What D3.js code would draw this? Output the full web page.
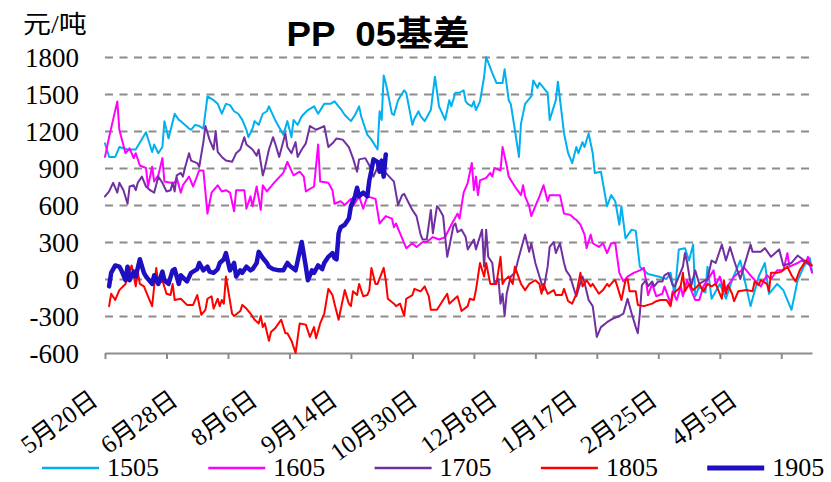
<!DOCTYPE html>
<html><head><meta charset="utf-8">
<script src="https://cdn.jsdelivr.net/npm/d3@7/dist/d3.min.js"></script>
<style>body{margin:0;background:#fff}svg{display:block}
.serif{font-family:"Liberation Serif","Tinos","Noto Sans CJK SC"}
.sansb{font-family:"Liberation Sans","Noto Sans CJK SC";font-weight:bold}
</style>
</head><body><svg id="c" width="831" height="482"></svg>
<script>
// ---------- data (category index = trading-day position, value = 元/吨) ----------
const seriesNames = ["1505", "1605", "1705", "1805", "1905"];
const seriesColors = ["#00B0F0", "#FF00FF", "#7030A0", "#FF0000", "#1F0FC2"];
const xTickLabels = ["5月20日", "6月28日", "8月6日", "9月14日", "10月30日", "12月8日", "1月17日", "2月25日", "4月5日"];
const yTicks = [-600, -300, 0, 300, 600, 900, 1200, 1500, 1800];
const lastDay = 345, labelEvery = 39, tickEvery = 30;

const s1505 = [[0,1100],[2,990],[5,990],[7,1070],[11,1050],[15,1050],[20,1190],[23,1030],[24,1090],[26,1020],[28,1070],[29,1280],[31,1140],[34,1340],[36,1290],[37,1280],[41,1220],[42,1210],[44,1250],[46,1240],[48,1220],[50,1480],[53,1450],[55,1420],[57,1340],[59,1420],[61,1410],[63,1360],[65,1340],[67,1290],[69,1210],[70,1150],[72,1220],[73,1280],[75,1250],[77,1340],[79,1360],[80,1400],[83,1290],[87,1170],[89,1280],[91,1150],[92,1290],[94,1250],[96,1320],[99,1370],[102,1400],[104,1340],[107,1420],[110,1420],[112,1440],[115,1380],[117,1330],[120,1280],[122,1330],[124,1400],[125,1320],[128,1170],[130,1130],[133,1050],[134,1360],[135,1290],[136,1650],[137,1590],[138,1510],[140,1340],[141,1330],[143,1450],[146,1530],[147,1510],[150,1250],[151,1300],[153,1360],[154,1320],[156,1280],[159,1370],[161,1640],[163,1400],[166,1290],[168,1450],[169,1400],[171,1510],[173,1510],[175,1530],[176,1440],[177,1420],[179,1400],[180,1440],[181,1370],[183,1440],[185,1640],[186,1800],[189,1670],[191,1590],[194,1590],[195,1700],[197,1450],[198,1420],[200,1210],[202,990],[203,1260],[205,1420],[207,1460],[208,1480],[209,1610],[211,1550],[212,1590],[216,1510],[217,1290],[220,1450],[221,1600],[224,1180],[226,1020],[228,940],[230,1070],[231,1020],[233,1110],[234,1070],[236,1180],[238,1020],[239,860],[242,870],[245,590],[247,680],[249,630],[251,440],[252,590],[254,330],[257,400],[259,390],[261,100],[265,40],[270,20],[274,0],[276,50],[278,-130],[280,240],[283,250],[285,150],[287,280],[288,-140],[290,-60],[293,-110],[294,100],[296,-160],[300,-40],[303,-160],[306,-10],[310,150],[315,-220],[319,20],[322,130],[324,-120],[328,-40],[331,-90],[335,-250],[338,-10],[341,100],[344,170],[345,60]];

const s1605 = [[0,990],[2,1150],[6,1440],[7,1210],[10,1020],[12,1060],[14,980],[15,1020],[17,920],[20,900],[21,750],[23,910],[24,790],[26,840],[28,980],[29,790],[32,780],[34,780],[35,820],[37,700],[38,760],[41,830],[43,750],[46,880],[48,880],[50,530],[52,700],[55,760],[57,710],[59,720],[61,700],[63,550],[64,720],[68,720],[69,570],[71,670],[72,590],[74,750],[76,560],[77,760],[79,710],[83,790],[87,860],[89,950],[92,840],[95,870],[97,830],[98,710],[102,750],[104,1090],[105,790],[109,780],[111,720],[112,610],[115,630],[117,600],[120,650],[121,590],[124,670],[126,570],[128,670],[132,650],[134,450],[137,510],[140,490],[141,420],[142,450],[144,370],[147,250],[150,290],[152,260],[155,300],[157,300],[160,340],[163,320],[166,340],[169,440],[172,530],[173,490],[175,700],[177,780],[179,940],[180,720],[181,830],[182,680],[183,800],[186,820],[188,860],[189,830],[190,900],[193,880],[194,1070],[196,920],[197,830],[200,750],[203,680],[204,760],[205,670],[207,590],[208,510],[210,590],[212,670],[214,760],[216,630],[217,680],[220,680],[222,680],[224,530],[227,520],[229,490],[230,480],[232,440],[234,360],[235,250],[237,360],[238,290],[241,260],[243,290],[245,210],[247,290],[249,290],[251,50],[253,-20],[255,20],[258,50],[261,70],[263,90],[265,-130],[267,-40],[269,-140],[272,-120],[273,-60],[276,-200],[277,-100],[279,-170],[281,-60],[282,-140],[284,-10],[286,-90],[288,-170],[290,-170],[292,-60],[297,70],[298,-50],[300,20],[302,-100],[305,-30],[307,20],[312,90],[314,50],[316,10],[320,-60],[323,30],[325,0],[328,70],[331,70],[333,210],[334,100],[338,130],[340,150],[342,130],[343,180],[345,50]];

const s1705 = [[0,670],[2,710],[4,780],[6,700],[7,780],[9,720],[11,610],[12,750],[14,760],[15,720],[16,780],[18,830],[20,750],[22,720],[24,700],[26,830],[28,780],[30,710],[32,720],[33,780],[34,710],[35,840],[37,860],[38,830],[39,900],[41,1020],[42,960],[45,940],[46,910],[48,1110],[49,1240],[51,1130],[53,1050],[54,1200],[55,1030],[57,990],[59,960],[62,950],[64,1020],[66,1050],[68,1150],[69,1090],[72,1050],[74,1000],[75,1050],[77,840],[78,900],[80,1050],[82,1150],[83,1100],[85,990],[88,1180],[89,1070],[91,1020],[93,1110],[94,990],[96,1050],[98,1100],[99,1170],[100,1240],[103,1210],[107,1240],[109,1070],[111,1100],[113,1140],[116,1130],[119,1070],[121,980],[123,870],[124,970],[127,980],[129,920],[131,830],[133,910],[137,860],[141,790],[143,600],[145,680],[146,690],[149,590],[150,560],[152,510],[154,360],[155,320],[157,320],[159,560],[160,370],[162,590],[163,570],[165,510],[166,340],[167,180],[168,260],[170,430],[171,450],[172,380],[174,400],[176,340],[177,240],[180,320],[181,240],[184,400],[185,100],[186,400],[187,180],[189,130],[190,-30],[192,0],[193,-200],[194,-120],[195,-300],[196,-120],[198,20],[200,50],[202,180],[205,360],[207,220],[208,290],[210,130],[212,20],[214,-90],[216,100],[217,260],[219,300],[220,210],[222,290],[224,130],[225,70],[227,20],[229,-90],[230,-140],[232,-30],[233,20],[234,-30],[236,-170],[238,-220],[240,-470],[242,-390],[245,-350],[248,-320],[251,-300],[253,-280],[255,-160],[257,-280],[259,-390],[260,-440],[261,-280],[262,-50],[264,-10],[265,-60],[267,-20],[268,-60],[270,-20],[272,-20],[273,30],[275,50],[277,-50],[278,-60],[280,20],[282,100],[283,210],[284,140],[286,-60],[288,70],[290,-40],[294,0],[296,150],[298,130],[301,280],[303,150],[305,260],[307,150],[310,0],[315,280],[316,220],[320,220],[322,250],[325,180],[329,240],[331,110],[335,130],[338,190],[342,140],[344,110]];

const s1805 = [[2,-220],[3,-120],[5,-170],[7,-90],[10,-40],[13,110],[15,-60],[16,60],[17,-40],[19,-60],[21,-140],[23,-220],[24,-60],[25,90],[26,-40],[28,-10],[30,-120],[32,-130],[33,-40],[34,-170],[37,-160],[40,-210],[43,-210],[45,-130],[47,-290],[49,-250],[50,-160],[52,-140],[53,-240],[55,-160],[56,-220],[57,-170],[58,-200],[59,20],[62,-280],[63,-300],[66,-260],[67,-210],[69,-240],[71,-280],[73,-330],[75,-360],[76,-300],[77,-390],[78,-360],[80,-500],[81,-430],[83,-400],[86,-330],[88,-440],[89,-440],[91,-500],[93,-600],[95,-360],[98,-370],[100,-470],[102,-390],[103,-480],[105,-360],[107,-280],[109,-80],[111,-130],[112,-200],[114,-330],[116,-170],[117,-90],[119,-200],[120,-220],[121,-100],[123,-130],[124,-40],[126,-140],[128,-130],[129,-90],[130,90],[132,-40],[133,-40],[136,90],[137,-10],[138,-160],[141,-200],[142,-220],[144,-200],[146,-300],[147,-160],[150,-130],[151,-80],[154,-100],[156,-60],[158,-140],[159,-250],[162,-250],[165,-170],[167,-120],[168,-200],[170,-170],[172,-140],[174,-260],[177,-220],[178,-160],[180,-170],[181,-90],[182,20],[183,130],[185,20],[186,130],[188,-40],[190,-40],[191,-40],[193,180],[194,-40],[195,-10],[197,20],[199,-40],[200,100],[203,-40],[205,-90],[207,-40],[210,-10],[212,-40],[213,-120],[214,-40],[216,-120],[219,-90],[220,-130],[223,-130],[224,-80],[226,-180],[228,-200],[230,-120],[232,50],[233,-60],[235,-10],[237,-60],[238,-40],[241,-120],[243,-90],[245,-40],[246,-60],[248,-20],[249,-10],[250,-60],[252,-170],[254,-10],[255,0],[256,-100],[259,-100],[260,-210],[263,-220],[265,-210],[267,-200],[269,-180],[271,-170],[274,-170],[276,-220],[277,-120],[280,-80],[281,-50],[282,50],[283,-100],[285,-40],[287,-90],[289,-60],[290,-40],[292,-100],[294,-40],[296,-60],[298,-40],[299,-80],[301,-160],[302,-10],[303,-120],[304,-50],[306,-120],[307,-180],[309,-100],[313,-90],[316,-100],[317,-20],[319,-50],[320,-10],[323,-40],[324,-100],[325,50],[328,50],[330,60],[333,100],[335,30],[337,-20],[339,70],[342,150],[343,140],[345,110]];

const s1905 = [[2,-60],[3,50],[5,110],[7,100],[8,70],[10,-10],[11,100],[12,-10],[14,60],[15,20],[17,160],[19,50],[20,20],[23,-40],[24,30],[26,-40],[28,60],[29,-10],[31,-40],[33,70],[34,80],[36,-40],[37,30],[40,-20],[42,50],[45,80],[46,130],[48,70],[50,100],[51,60],[53,50],[55,80],[56,130],[58,160],[59,210],[61,70],[63,130],[64,20],[66,70],[67,50],[69,100],[71,70],[72,80],[74,130],[75,220],[77,170],[79,130],[80,100],[82,80],[85,70],[87,70],[89,130],[90,110],[93,70],[96,300],[98,100],[99,-10],[101,70],[102,50],[104,110],[106,80],[107,130],[109,180],[111,210],[112,170],[113,160],[114,370],[115,420],[117,440],[119,490],[120,590],[122,670],[123,740],[124,670],[126,700],[128,670],[129,800],[130,880],[131,970],[133,950],[134,870],[135,960],[136,830],[137,1010]];

const seriesData = [s1505, s1605, s1705, s1805, s1905];

// ---------- drawing ----------
const svg = d3.select("#c");
const L = 105, R = 812, T = 57, B = 353;

const x = d3.scaleLinear().domain([0, lastDay]).range([L, R]);
const y = d3.scaleLinear().domain([-600, 1800]).range([B, T]);

// gridlines
const grid = svg.append("g").attr("transform", `translate(${L},0)`)
  .call(d3.axisLeft(y).tickValues(yTicks.filter(v => v > -600)).tickSize(-(R - L)).tickFormat(""));
grid.select(".domain").remove();
grid.selectAll("line").attr("stroke", "#8C8C8C").attr("stroke-width", 2).attr("stroke-dasharray", "8,6.5");

// y labels
const ya = svg.append("g").attr("transform", `translate(${L},0)`)
  .call(d3.axisLeft(y).tickValues(yTicks).tickSize(0).tickPadding(26).tickFormat(d => String(d)));
ya.select(".domain").remove();
ya.attr("font-family", null).attr("font-size", null);
ya.selectAll("text").attr("class", "serif").style("font-size", "27px").attr("fill", "#000").attr("dy", "0.34em");

// x axis line + tick marks
const tickIdx = d3.range(0, lastDay, tickEvery);
const xa = svg.append("g").attr("transform", `translate(0,${B})`)
  .call(d3.axisBottom(x).tickValues(tickIdx).tickSize(6).tickSizeOuter(0).tickFormat(""));
xa.select(".domain").attr("stroke", "#8C8C8C").attr("stroke-width", 2);
xa.selectAll(".tick line").attr("stroke", "#8C8C8C").attr("stroke-width", 2);

// x labels
const labelIdx = xTickLabels.map((_, i) => i * labelEvery);
const xl = svg.append("g").attr("transform", `translate(0,${B})`)
  .call(d3.axisBottom(x).tickValues(labelIdx).tickSize(0).tickFormat((d, i) => xTickLabels[i]));
xl.select(".domain").remove();
xl.attr("font-family", null).attr("font-size", null);
xl.selectAll("text").attr("class", "serif").style("font-size", "25px").attr("fill", "#000")
  .attr("text-anchor", "end").attr("x", 0).attr("y", 0).attr("dy", 0)
  .attr("transform", "translate(-6,50) rotate(-36)");

// series
const line = d3.line().x(d => x(d[0])).y(d => y(d[1]));
seriesData.forEach((s, k) => {
  svg.append("path").datum(s).attr("d", line).attr("fill", "none")
    .attr("stroke", seriesColors[k]).attr("stroke-width", k === 4 ? 4.5 : 2)
    .attr("stroke-linejoin", "round").attr("stroke-linecap", "round");
});

// title & unit
svg.append("text").attr("class", "sansb").attr("transform", "translate(378,46) scale(1.05,1)").attr("text-anchor", "middle")
  .style("font-size", "35px").style("white-space", "pre").text("PP  05基差");
svg.append("text").attr("class", "serif").attr("transform", "translate(23,33) scale(1.12,1)")
  .style("font-size", "25px").text("元/吨");

// legend
const lg = svg.append("g");
seriesNames.forEach((n, k) => {
  const x0 = 42 + k * 166.3;
  lg.append("line").attr("x1", x0).attr("x2", x0 + 57).attr("y1", 468).attr("y2", 468)
    .attr("stroke", seriesColors[k]).attr("stroke-width", k === 4 ? 5 : 2.5);
  lg.append("text").attr("class", "serif").attr("x", x0 + 65).attr("y", 476).style("font-size", "26px").text(n);
});
</script></body></html>
